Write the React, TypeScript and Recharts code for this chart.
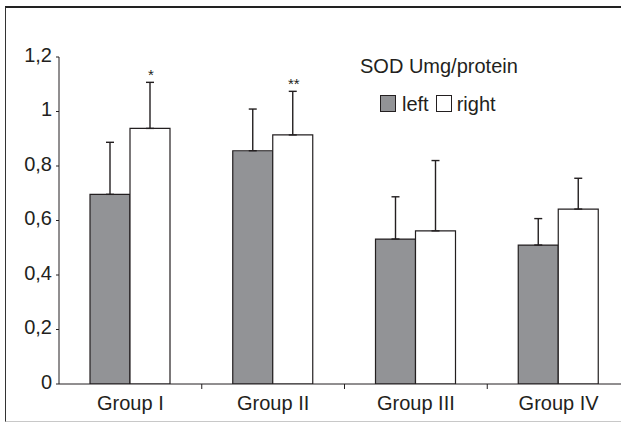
import { BarChart, Bar, XAxis, YAxis, ErrorBar, LabelList } from "recharts";

const groups = ["Group I", "Group II", "Group III", "Group IV"];
const leftValues = [0.696, 0.856, 0.532, 0.51];
const leftErrors = [0.191, 0.153, 0.155, 0.097];
const rightValues = [0.938, 0.914, 0.562, 0.642];
const rightErrors = [0.169, 0.16, 0.258, 0.113];
const significance = ["*", "**", "", ""];
const yTicks = [0, 0.2, 0.4, 0.6, 0.8, 1, 1.2];
const yTickLabels = ["0", "0,2", "0,4", "0,6", "0,8", "1", "1,2"];

const INK = "#231f20";
const GREY = "#929396";
const FONT = "'Liberation Sans', Arial, sans-serif";

const data = groups.map((group, i) => ({
  group,
  left: leftValues[i],
  leftErr: [0, leftErrors[i]],
  right: rightValues[i],
  rightErr: [0, rightErrors[i]],
  sig: significance[i],
}));

function YTick(props: any) {
  const { x, y, payload } = props;
  const idx = yTicks.indexOf(payload.value);
  return (
    <text x={x} y={y + 4.5} textAnchor="end" fontSize={20} fill={INK} fontFamily={FONT}>
      {idx >= 0 ? yTickLabels[idx] : payload.value}
    </text>
  );
}

function XTick(props: any) {
  const { x, y, payload } = props;
  const edge = x + (payload.offset ?? 0);
  const last = payload.index === groups.length - 1;
  return (
    <g>
      {!last && <line x1={edge} y1={y} x2={edge} y2={y + 5} stroke={INK} strokeWidth={1} />}
      <text x={x} y={y + 26} textAnchor="middle" fontSize={20} fill={INK} fontFamily={FONT}>
        {payload.value}
      </text>
    </g>
  );
}

function Stars(props: any) {
  const { x, y, width, height, value, index } = props;
  if (!value) return null;
  const errTop = y - (rightErrors[index] * height) / rightValues[index];
  return (
    <text x={x + width / 2 + 1} y={errTop - 2} textAnchor="middle" fontSize={15} fill={INK} fontFamily={FONT}>
      {value}
    </text>
  );
}

function Swatch({ fill }: { fill: string }) {
  return (
    <span
      style={{
        display: "inline-block",
        width: 14,
        height: 15,
        background: fill,
        border: `1px solid ${INK}`,
        verticalAlign: "middle",
      }}
    />
  );
}

export default function App() {
  return (
    <div
      style={{
        position: "fixed",
        left: 0,
        top: 0,
        width: 621,
        height: 422,
        overflow: "hidden",
        background: "#fff",
        fontFamily: FONT,
        color: INK,
      }}
    >
      <div
        style={{
          position: "absolute",
          left: 5,
          top: 6,
          width: 640,
          height: 413,
          borderLeft: "1px solid #333",
          borderTop: "2px solid #222",
          borderBottom: "1px solid #c8c8c8",
        }}
      />
      <div style={{ position: "absolute", left: 0, top: 0 }}>
        <BarChart
          width={640}
          height={422}
          data={data}
          margin={{ top: 57, right: 10, bottom: 8, left: 0 }}
          barSize={40}
          barGap={0}
        >
          <XAxis
            dataKey="group"
            height={30}
            axisLine={{ stroke: INK, strokeWidth: 1 }}
            tickLine={false}
            tickSize={0}
            tickMargin={0}
            tick={<XTick />}
            interval={0}
          />
          <YAxis
            width={59}
            domain={[0, 1.2]}
            ticks={yTicks}
            allowDataOverflow
            axisLine={{ stroke: INK, strokeWidth: 1 }}
            tickLine={{ stroke: INK, strokeWidth: 1 }}
            tickSize={3}
            tickMargin={4}
            tick={<YTick />}
            interval={0}
          />
          <Bar dataKey="left" fill={GREY} stroke={INK} strokeWidth={1.2} isAnimationActive={false}>
            <ErrorBar dataKey="leftErr" direction="y" width={4} stroke={INK} strokeWidth={1.4} />
          </Bar>
          <Bar dataKey="right" fill="#ffffff" stroke={INK} strokeWidth={1.2} isAnimationActive={false}>
            <ErrorBar dataKey="rightErr" direction="y" width={4} stroke={INK} strokeWidth={1.4} />
            <LabelList dataKey="sig" content={<Stars />} />
          </Bar>
        </BarChart>
      </div>
      <div style={{ position: "absolute", left: 360, top: 54, fontSize: 20, lineHeight: "24px", whiteSpace: "nowrap" }}>
        SOD Umg/protein
      </div>
      <div
        style={{
          position: "absolute",
          left: 380,
          top: 90,
          fontSize: 20,
          lineHeight: "24px",
          whiteSpace: "nowrap",
        }}
      >
        <Swatch fill={GREY} />
        <span style={{ verticalAlign: "middle", marginLeft: 6 }}>left</span>
        <span style={{ marginLeft: 7 }} />
        <Swatch fill="#ffffff" />
        <span style={{ verticalAlign: "middle", marginLeft: 5 }}>right</span>
      </div>
    </div>
  );
}
